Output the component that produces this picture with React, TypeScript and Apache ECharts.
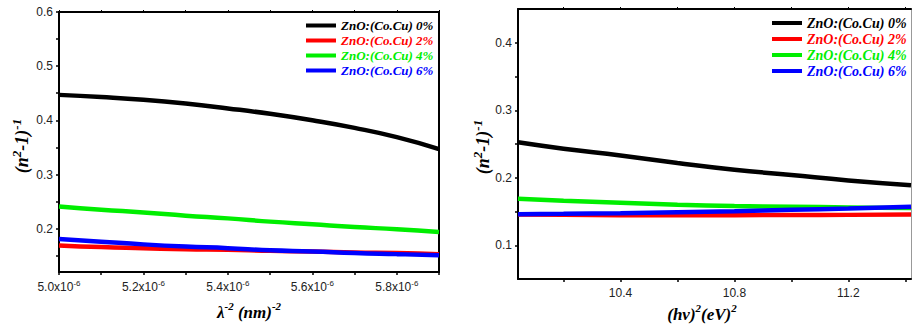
import React, { useEffect, useRef } from "react";
import * as echarts from "echarts";

const seriesNames = ["ZnO:(Co.Cu) 0%", "ZnO:(Co.Cu) 2%", "ZnO:(Co.Cu) 4%", "ZnO:(Co.Cu) 6%"];
const seriesColors = ["#000000", "#ff0000", "#00ee00", "#0000ff"];

// Left chart: x = lambda^-2 (nm)^-2
const leftX = [5.0e-6, 5.1e-6, 5.2e-6, 5.3e-6, 5.4e-6, 5.5e-6, 5.6e-6, 5.7e-6, 5.8e-6, 5.9e-6];
const left0 = [0.447, 0.443, 0.438, 0.431, 0.422, 0.412, 0.4, 0.386, 0.369, 0.347];
const left2 = [0.169, 0.166, 0.164, 0.162, 0.161, 0.159, 0.158, 0.156, 0.155, 0.153];
const left4 = [0.241, 0.235, 0.23, 0.224, 0.219, 0.213, 0.208, 0.203, 0.199, 0.194];
const left6 = [0.181, 0.176, 0.171, 0.167, 0.164, 0.16, 0.158, 0.155, 0.153, 0.151];

// Right chart: x = (hv)^2 (eV)^2
const rightX = [10.04, 10.2, 10.4, 10.6, 10.8, 11.0, 11.2, 11.42];
const right0 = [0.2525, 0.243, 0.233, 0.222, 0.212, 0.204, 0.196, 0.189];
const right2 = [0.1455, 0.145, 0.1445, 0.1443, 0.1445, 0.1448, 0.145, 0.1455];
const right4 = [0.169, 0.166, 0.163, 0.16, 0.158, 0.157, 0.156, 0.155];
const right6 = [0.146, 0.1465, 0.1475, 0.149, 0.1505, 0.1525, 0.1545, 0.157];

// Tick values
const leftXLabels = [5.0e-6, 5.2e-6, 5.4e-6, 5.6e-6, 5.8e-6];
const leftXTicks = [5.0e-6, 5.1e-6, 5.2e-6, 5.3e-6, 5.4e-6, 5.5e-6, 5.6e-6, 5.7e-6, 5.8e-6, 5.9e-6];
const leftYLabels = [0.2, 0.3, 0.4, 0.5, 0.6];
const leftYTicks = [0.15, 0.2, 0.25, 0.3, 0.35, 0.4, 0.45, 0.5, 0.55, 0.6];
const rightXLabels = [10.4, 10.8, 11.2];
const rightXTicks = [10.2, 10.4, 10.6, 10.8, 11.0, 11.2, 11.4];
const rightYLabels = [0.1, 0.2, 0.3, 0.4];
const rightYTicks = [0.1, 0.15, 0.2, 0.25, 0.3, 0.35, 0.4];

const SERIF = "Times New Roman";
const SANS = "Liberation Sans";

const labelStyle = {
  fontFamily: SANS,
  fontSize: 12,
  color: "#222",
};

function makeLegend(left: number, top: number, fontSize: number, gap: number) {
  return {
    show: true,
    orient: "vertical",
    left,
    top,
    icon: "rect",
    itemWidth: 30,
    itemHeight: 4,
    itemGap: gap,
    padding: 0,
    textStyle: {
      fontFamily: SERIF,
      fontWeight: "bold",
      fontStyle: "italic",
      fontSize,
      lineHeight: 13,
    },
    data: seriesNames.map((n, i) => ({
      name: n,
      textStyle: {
        color: seriesColors[i],
        fontFamily: SERIF,
        fontWeight: "bold",
        fontStyle: "italic",
        fontSize,
        lineHeight: 13,
      },
    })),
    selectedMode: false,
  };
}

const titleRich = (main: number, sup: number) => ({
  a: {
    fontFamily: SERIF,
    fontWeight: "bold",
    fontStyle: "italic",
    fontSize: main,
    lineHeight: main + 6,
    fill: "#000",
  },
  s: {
    fontFamily: SERIF,
    fontWeight: "bold",
    fontStyle: "italic",
    fontSize: sup,
    verticalAlign: "top",
    fill: "#000",
  },
});

export default function App() {
  const ref = useRef<HTMLDivElement>(null);

  useEffect(() => {
    document.body.style.margin = "0";
    if (!ref.current) return;
    const chart = echarts.init(ref.current, undefined, { renderer: "svg" });

    const boxLine = { show: true, lineStyle: { color: "#000", width: 2 } };

    const series: any[] = [];
    const leftData = [left0, left2, left4, left6];
    const rightData = [right0, right2, right4, right6];
    leftData.forEach((arr, i) => {
      series.push({
        name: seriesNames[i],
        type: "line",
        xAxisIndex: 0,
        yAxisIndex: 0,
        showSymbol: false,
        smooth: true,
        color: seriesColors[i],
        lineStyle: { width: 4.5, color: seriesColors[i] },
        data: arr.map((v, j) => [leftX[j], v]),
        z: 2 + i,
      });
    });
    rightData.forEach((arr, i) => {
      series.push({
        name: seriesNames[i],
        type: "line",
        xAxisIndex: 2,
        yAxisIndex: 2,
        showSymbol: false,
        smooth: true,
        color: seriesColors[i],
        lineStyle: { width: 4.5, color: seriesColors[i] },
        data: arr.map((v, j) => [rightX[j], v]),
        z: 2 + i,
      });
    });

    const option: any = {
      animation: false,
      backgroundColor: "#fff",
      grid: [
        { left: 59, right: 473, top: 12, bottom: 54 },
        { left: 518, right: 1, top: 9, bottom: 47 },
      ],
      legend: [makeLegend(306, 19, 13, 2), makeLegend(772, 16, 14, 2)],
      xAxis: [
        {
          type: "value",
          gridIndex: 0,
          position: "bottom",
          min: 5.0e-6,
          max: 5.9e-6,
          axisLine: boxLine,
          splitLine: { show: false },
          axisTick: { show: true, length: 3, inside: false, customValues: leftXTicks, lineStyle: { color: "#000", width: 1.5 } },
          axisLabel: {
            ...labelStyle,
            margin: 7,
            customValues: leftXLabels,
            formatter: (v: number) => `{a|${(v * 1e6).toFixed(1)}x10}{s|-6}`,
            rich: {
              a: { fontFamily: SANS, fontSize: 12, color: "#222", lineHeight: 16 },
              s: { fontFamily: SANS, fontSize: 8, color: "#222", verticalAlign: "top" },
            },
          },
        },
        {
          type: "value",
          gridIndex: 0,
          position: "top",
          min: 5.0e-6,
          max: 5.9e-6,
          axisLine: boxLine,
          splitLine: { show: false },
          axisTick: { show: true, length: 2, customValues: leftXTicks, lineStyle: { color: "#000" } },
          axisLabel: { show: false },
        },
        {
          type: "value",
          gridIndex: 1,
          position: "bottom",
          min: 10.04,
          max: 11.42,
          axisLine: boxLine,
          splitLine: { show: false },
          axisTick: { show: true, length: 3, customValues: rightXTicks, lineStyle: { color: "#000", width: 1.5 } },
          axisLabel: {
            ...labelStyle,
            margin: 8,
            customValues: rightXLabels,
            formatter: (v: number) => v.toFixed(1),
          },
        },
        {
          type: "value",
          gridIndex: 1,
          position: "top",
          min: 10.04,
          max: 11.42,
          axisLine: boxLine,
          splitLine: { show: false },
          axisTick: { show: true, length: 2, customValues: rightXTicks, lineStyle: { color: "#000" } },
          axisLabel: { show: false },
        },
      ],
      yAxis: [
        {
          type: "value",
          gridIndex: 0,
          position: "left",
          min: 0.12,
          max: 0.6,
          axisLine: boxLine,
          splitLine: { show: false },
          axisTick: { show: true, length: 3, customValues: leftYTicks, lineStyle: { color: "#000", width: 1.5 } },
          axisLabel: {
            ...labelStyle,
            margin: 6,
            customValues: leftYLabels,
            formatter: (v: number) => v.toFixed(1),
          },
        },
        {
          type: "value",
          gridIndex: 0,
          position: "right",
          min: 0.12,
          max: 0.6,
          axisLine: boxLine,
          splitLine: { show: false },
          axisTick: { show: false },
          axisLabel: { show: false },
        },
        {
          type: "value",
          gridIndex: 1,
          position: "left",
          min: 0.05,
          max: 0.45,
          axisLine: boxLine,
          splitLine: { show: false },
          axisTick: { show: true, length: 3, customValues: rightYTicks, lineStyle: { color: "#000", width: 1.5 } },
          axisLabel: {
            ...labelStyle,
            margin: 6,
            customValues: rightYLabels,
            formatter: (v: number) => v.toFixed(1),
          },
        },
        {
          type: "value",
          gridIndex: 1,
          position: "right",
          min: 0.05,
          max: 0.45,
          axisLine: { show: true, lineStyle: { color: "#999", width: 1 } },
          splitLine: { show: false },
          axisTick: { show: false },
          axisLabel: { show: false },
        },
      ],
      series,
      graphic: [
        {
          type: "text",
          x: 22,
          y: 146,
          rotation: Math.PI / 2,
          style: {
            text: "{a|(n}{s|2}{a|-1)}{s|-1}",
            rich: titleRich(18, 13),
            align: "center",
            verticalAlign: "middle",
          },
        },
        {
          type: "text",
          x: 483,
          y: 147,
          rotation: Math.PI / 2,
          style: {
            text: "{a|(n}{s|2}{a|-1)}{s|-1}",
            rich: titleRich(18, 13),
            align: "center",
            verticalAlign: "middle",
          },
        },
        {
          type: "text",
          x: 249,
          y: 312,
          style: {
            text: "{a|λ}{s|-2}{a| (nm)}{s|-2}",
            rich: titleRich(17, 11),
            align: "center",
            verticalAlign: "middle",
          },
        },
        {
          type: "text",
          x: 702,
          y: 314,
          style: {
            text: "{a|(hv)}{s|2}{a|(eV)}{s|2}",
            rich: titleRich(17, 11),
            align: "center",
            verticalAlign: "middle",
          },
        },
      ],
    };

    chart.setOption(option);
    return () => chart.dispose();
  }, []);

  return <div ref={ref} style={{ width: 912, height: 326 }} />;
}
